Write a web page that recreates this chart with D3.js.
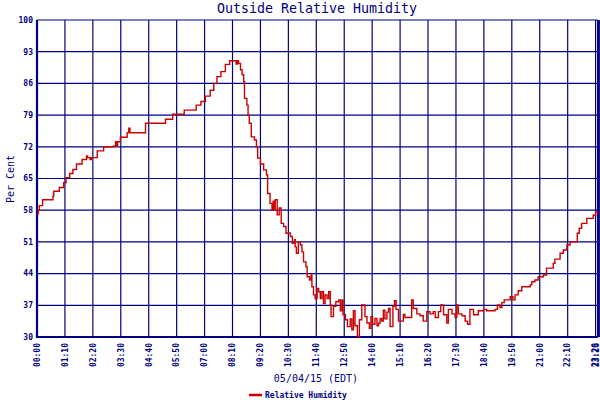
<!DOCTYPE html>
<html>
<head>
<meta charset="utf-8">
<script src="https://cdn.jsdelivr.net/npm/d3@7"></script>
<style>
body { margin: 0; background: #fff; }
text { font-family: "DejaVu Sans Mono", monospace; fill: #000080; }
</style>
</head>
<body>
<script>
// minutes since midnight, 05/04/15
var times = [0, 3, 6, 14, 40, 42, 56, 67, 73, 82, 90, 99, 113, 124, 127, 133, 136, 151, 167, 192,
  197, 200, 202, 209, 226, 230, 233, 272, 322, 340, 369, 399, 411, 422, 434, 443, 451, 461, 472, 483,
  497, 499, 502, 505, 510, 514, 518, 520, 526, 529, 532, 537, 545, 550, 553, 560, 568, 575, 578, 584,
  589, 592, 595, 597, 602, 607, 612, 618, 624, 630, 635, 640, 645, 647, 650, 655, 660, 664, 668, 674,
  677, 683, 687, 689, 693, 697, 702, 706, 710, 714, 718, 722, 727, 731, 735, 737, 743, 749, 756, 760,
  764, 767, 773, 778, 785, 789, 793, 797, 803, 808, 814, 818, 822, 827, 833, 837, 841, 847, 852, 856,
  860, 864, 868, 872, 877, 881, 885, 892, 896, 900, 906, 912, 918, 922, 935, 939, 943, 952, 960, 968,
  977, 985, 993, 998, 1006, 1012, 1019, 1027, 1031, 1040, 1048, 1052, 1056, 1065, 1073, 1079, 1085, 1094, 1106, 1119,
  1127, 1140, 1148, 1154, 1160, 1165, 1171, 1180, 1186, 1193, 1198, 1206, 1215, 1236, 1240, 1248, 1256, 1269, 1277, 1294,
  1298, 1311, 1319, 1328, 1336, 1348, 1354, 1359, 1365, 1378, 1394, 1400, 1406];
var humidity = [57.2, 58.0, 59.0, 60.3, 61.1, 62.2, 63.0, 64.1, 65.2, 66.1, 67.0, 68.2, 69.2, 70.0, 69.6, 69.2, 69.6, 71.1, 72.0, 72.2,
  73.1, 72.2, 73.1, 74.1, 75.1, 76.1, 75.1, 77.2, 78.1, 79.2, 80.1, 81.2, 82.0, 83.2, 84.5, 86.0, 87.5, 88.6, 90.2, 91.0,
  91.0, 90.3, 91.0, 90.4, 89.0, 87.9, 86.4, 82.7, 81.2, 79.0, 77.2, 74.2, 73.5, 72.0, 69.5, 68.2, 66.9, 65.8, 61.7, 59.5,
  58.0, 60.0, 58.2, 60.3, 57.0, 58.5, 55.1, 54.4, 52.9, 53.0, 52.2, 50.7, 51.5, 49.9, 48.5, 51.0, 50.3, 48.8, 46.6, 45.5,
  43.3, 42.6, 43.7, 41.1, 39.3, 38.5, 40.7, 40.0, 38.5, 40.0, 37.4, 39.3, 38.5, 40.0, 37.1, 34.5, 36.8, 37.8, 38.2, 35.8,
  38.2, 34.9, 33.8, 32.3, 34.0, 31.6, 35.8, 32.5, 30.1, 33.8, 37.1, 37.1, 34.5, 33.1, 31.9, 34.5, 32.8, 34.1, 32.5, 33.1,
  34.1, 33.5, 35.9, 34.0, 35.5, 36.3, 32.3, 36.8, 38.0, 36.1, 33.5, 33.5, 35.0, 34.3, 34.3, 38.2, 36.3, 35.1, 34.7, 33.5,
  35.6, 35.1, 35.6, 34.3, 35.6, 37.1, 34.9, 33.1, 36.1, 35.1, 34.3, 37.1, 35.1, 34.7, 33.5, 32.8, 36.1, 34.9, 35.8, 36.1,
  35.8, 35.8, 36.1, 37.1, 36.5, 37.6, 38.2, 38.2, 38.9, 38.2, 39.3, 40.2, 41.1, 41.5, 42.2, 42.6, 43.3, 43.7, 45.2, 46.3,
  47.2, 48.5, 49.2, 50.3, 51.0, 51.0, 52.9, 54.0, 55.1, 56.2, 56.9, 57.6, 57.6];
var xTicks = [0, 70, 140, 210, 280, 350, 420, 490, 560, 630, 700, 770, 840, 910, 980, 1050, 1120, 1190, 1260, 1330, 1400, 1406];
var yTicks = [30, 37, 44, 51, 58, 65, 72, 79, 86, 93, 100];

var width = 600, height = 400;
var navy = "#000080";

var body = d3.select("body");
var svg = body.append("svg")
    .attr("width", width)
    .attr("height", height);

var x = d3.scaleLinear().domain([0, 1406]).range([37, 598]);
var y = d3.scaleLinear().domain([30, 100]).range([337, 20]);

function hhmm(m) {
  return d3.format("02d")(Math.floor(m / 60)) + ":" + d3.format("02d")(m % 60);
}

// grid
svg.append("g").selectAll("line.h").data(yTicks).enter().append("line")
    .attr("x1", x(0)).attr("x2", x(1406))
    .attr("y1", function(d) { return y(d); }).attr("y2", function(d) { return y(d); })
    .attr("stroke", navy).attr("stroke-width", 1.2);
svg.append("g").selectAll("line.v").data(xTicks).enter().append("line")
    .attr("x1", function(d) { return x(d); }).attr("x2", function(d) { return x(d); })
    .attr("y1", y(100)).attr("y2", y(30))
    .attr("stroke", navy).attr("stroke-width", 1.2);

// frame
svg.append("line").attr("x1", x(0)).attr("x2", x(0)).attr("y1", y(100)).attr("y2", y(30) + 1)
    .attr("stroke", navy).attr("stroke-width", 2.2);
svg.append("line").attr("x1", x(0)).attr("x2", x(1406)).attr("y1", y(30)).attr("y2", y(30))
    .attr("stroke", navy).attr("stroke-width", 2);
svg.append("line").attr("x1", x(1406) + 0.5).attr("x2", x(1406) + 0.5).attr("y1", y(100)).attr("y2", y(30))
    .attr("stroke", navy).attr("stroke-width", 2.8);

// data line
var line = d3.line()
    .x(function(d, i) { return x(times[i]); })
    .y(function(d) { return y(d); })
    .curve(d3.curveStepAfter);
svg.append("path")
    .attr("d", line(humidity))
    .attr("fill", "none")
    .attr("stroke", "#cc0000")
    .attr("stroke-width", 1.4);

// y labels
svg.append("g").selectAll("text").data(yTicks).enter().append("text")
    .attr("x", 33).attr("y", function(d) { return y(d); })
    .attr("dy", "0.35em")
    .attr("text-anchor", "end")
    .attr("font-size", 8).attr("font-weight", "bold")
    .text(function(d) { return d; });

// x labels (last one kept inside the window)
svg.append("g").selectAll("text").data(xTicks).enter().append("text")
    .attr("transform", function(d) { return "translate(" + Math.min(x(d), 596) + ",343) rotate(-90)"; })
    .attr("dy", "0.35em")
    .attr("text-anchor", "end")
    .attr("font-size", 8).attr("font-weight", "bold")
    .text(function(d) { return hhmm(d); });

// titles
svg.append("text")
    .attr("x", 317).attr("y", 13)
    .attr("text-anchor", "middle")
    .attr("font-size", 13.3)
    .text("Outside Relative Humidity");
svg.append("text")
    .attr("transform", "translate(10,179) rotate(-90)")
    .attr("dy", "0.35em")
    .attr("text-anchor", "middle")
    .attr("font-size", 10)
    .text("Per Cent");
svg.append("text")
    .attr("x", 316).attr("y", 382)
    .attr("text-anchor", "middle")
    .attr("font-size", 10)
    .text("05/04/15 (EDT)");

// legend
svg.append("line")
    .attr("x1", 249).attr("x2", 262).attr("y1", 395).attr("y2", 395)
    .attr("stroke", "#cc0000").attr("stroke-width", 2.5);
svg.append("text")
    .attr("x", 265).attr("y", 398)
    .attr("font-size", 8).attr("font-weight", "bold")
    .text("Relative Humidity");
</script>
</body>
</html>
